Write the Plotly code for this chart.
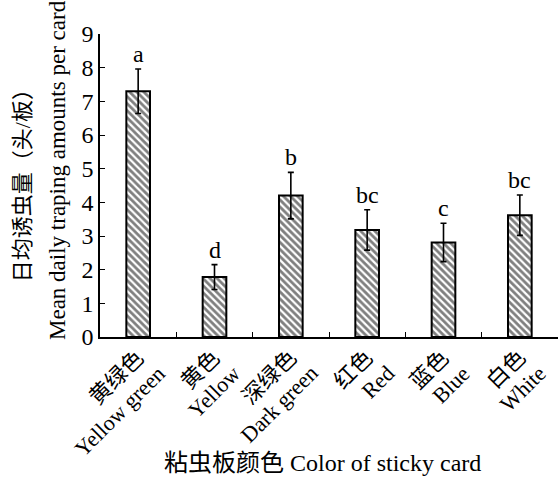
import plotly.graph_objects as go

# Sticky card colours (Chinese / English) and trapping results
colors_cn = ["黄绿色", "黄色", "深绿色", "红色", "蓝色", "白色"]
colors_en = ["Yellow green", "Yellow", "Dark green", "Red", "Blue", "White"]
mean_catch = [7.30, 1.78, 4.20, 3.18, 2.81, 3.62]
std_err = [0.66, 0.37, 0.69, 0.60, 0.57, 0.60]
sig_letters = ["a", "d", "b", "bc", "c", "bc"]
y_ticks = [0, 1, 2, 3, 4, 5, 6, 7, 8, 9]
y_title_cn = "日均诱虫量（头/板）"
y_title_en = "Mean daily traping amounts per card"
x_title = "粘虫板颜色 Color of sticky card"

FONT = "Liberation Serif, Times New Roman, Noto Sans CJK SC, serif"

fig = go.Figure()
fig.add_trace(go.Bar(
    x=colors_en,
    y=mean_catch,
    width=0.31,
    marker=dict(
        color="white",
        line=dict(color="black", width=2),
        pattern=dict(shape="\\", fgcolor="black", bgcolor="white",
                     size=5, solidity=0.55),
    ),
    error_y=dict(type="data", array=std_err, symmetric=True,
                 color="black", thickness=1.6, width=3),
    showlegend=False,
))

# Significance letters above each error bar
for cat, m, se, lab in zip(colors_en, mean_catch, std_err, sig_letters):
    fig.add_annotation(x=cat, y=m + se, text=lab, showarrow=False,
                       yanchor="bottom", yshift=0,
                       font=dict(family=FONT, size=24, color="black"))

# Slanted two-line category labels (Chinese above, English below),
# right-aligned at each category position
for cat, cn, en in zip(colors_en, colors_cn, colors_en):
    fig.add_annotation(x=cat, xref="x", y=0, yref="paper", text=cn,
                       textangle=-45, showarrow=False,
                       xanchor="right", yanchor="top", xshift=13, yshift=-5,
                       font=dict(family=FONT, size=22, color="black"))
    fig.add_annotation(x=cat, xref="x", y=0, yref="paper", text=en,
                       textangle=-45, showarrow=False,
                       xanchor="right", yanchor="top", xshift=34, yshift=-21,
                       font=dict(family=FONT, size=22, color="black"))

# Axis titles
fig.add_annotation(xref="paper", yref="paper", x=0.485, y=-0.416,
                   text=x_title, showarrow=False,
                   xanchor="center", yanchor="middle",
                   font=dict(family=FONT, size=24, color="black"))
fig.add_annotation(xref="paper", yref="paper", x=-0.170, y=0.518,
                   text=y_title_cn, textangle=-90, showarrow=False,
                   xanchor="center", yanchor="middle",
                   font=dict(family=FONT, size=22, color="black"))
fig.add_annotation(xref="paper", yref="paper", x=-0.094, y=0.551,
                   text=y_title_en, textangle=-90, showarrow=False,
                   xanchor="center", yanchor="middle",
                   font=dict(family=FONT, size=23, color="black"))

fig.update_layout(
    width=558, height=477,
    margin=dict(l=100, r=0, t=34, b=140),
    paper_bgcolor="white", plot_bgcolor="white",
    font=dict(family=FONT, color="black"),
    xaxis=dict(
        type="category",
        tickson="boundaries",
        ticks="inside", ticklen=5, tickwidth=1.2, tickcolor="black",
        showline=True, linecolor="black", linewidth=1.5,
        showticklabels=False,
        range=[-0.5, 5.5],
        automargin=False,
        showgrid=False, zeroline=False,
    ),
    yaxis=dict(
        range=[0, 9],
        tickvals=y_ticks,
        ticks="inside", ticklen=5, tickwidth=1.2, tickcolor="black",
        showline=True, linecolor="black", linewidth=1.5,
        tickfont=dict(family=FONT, size=24),
        automargin=False,
        showgrid=False, zeroline=False,
    ),
)

fig.write_html("out.html")
